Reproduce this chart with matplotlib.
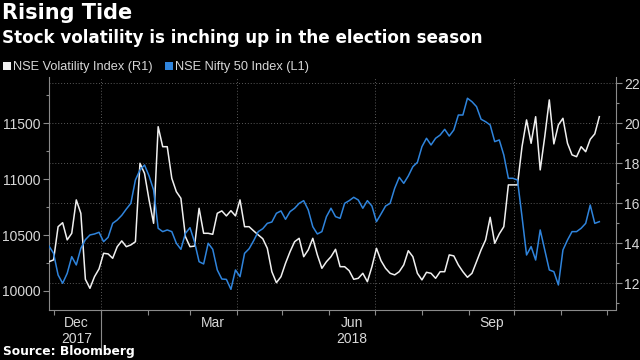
import numpy as np
import pandas as pd
import matplotlib
matplotlib.use("Agg")
import matplotlib.pyplot as plt
import matplotlib.dates as mdates
import matplotlib.transforms as mtrans
from matplotlib.lines import Line2D
from matplotlib.ticker import FixedLocator, NullFormatter, FixedFormatter, MultipleLocator

# ---------------- data ----------------
dates = pd.date_range("2017-11-28", periods=122, freq="3D")

vix_r1 = [
    13.08, 13.17, 14.83, 15.03, 14.17, 14.5, 16.17, 15.5, 12.2, 11.75,
    12.33, 12.72, 13.5, 13.47, 13.25, 13.83, 14.12, 13.83, 13.92, 14.08,
    18.0, 17.5, 16.17, 15.0, 19.83, 18.83, 18.83, 17.25, 16.58, 16.25,
    14.33, 13.83, 13.86, 15.75, 14.5, 14.5, 14.45, 15.5, 15.62, 15.37,
    15.63, 15.37, 16.17, 14.83, 14.83, 14.62, 14.42, 14.23, 13.75, 12.58,
    12.03, 12.33, 13.0, 13.58, 14.08, 14.25, 13.33, 13.67, 14.25, 13.42,
    12.75, 13.08, 13.33, 13.7, 12.83, 12.83, 12.63, 12.2, 12.25, 12.5,
    12.08, 12.83, 13.75, 13.13, 12.75, 12.5, 12.42, 12.58, 12.92, 13.63,
    13.33, 12.5, 12.17, 12.55, 12.5, 12.25, 12.58, 12.58, 13.42, 13.37,
    12.92, 12.58, 12.3, 12.5, 13.08, 13.67, 14.17, 15.3, 14.0, 14.47,
    14.83, 16.92, 16.92, 16.92, 18.83, 20.17, 19.0, 20.33, 17.67, 19.33,
    21.17, 18.97, 19.92, 20.25, 19.0, 18.42, 18.33, 18.83, 18.58, 19.2,
    19.47, 20.33,
]

nifty_l1 = [
    10402, 10337, 10143, 10069, 10158, 10307, 10233, 10382, 10459, 10501,
    10510, 10525, 10441, 10480, 10605, 10635, 10677, 10733, 10784, 10993,
    11082, 11127, 11029, 10903, 10561, 10531, 10546, 10531, 10427, 10373,
    10516, 10566, 10438, 10262, 10242, 10427, 10373, 10188, 10107, 10104,
    10015, 10188, 10128, 10337, 10378, 10450, 10531, 10557, 10605, 10617,
    10695, 10716, 10641, 10710, 10740, 10784, 10808, 10725, 10575, 10510,
    10531, 10665, 10740, 10665, 10650, 10784, 10808, 10838, 10814, 10740,
    10808, 10760, 10620, 10689, 10760, 10784, 10918, 11017, 10963, 11029,
    11112, 11151, 11291, 11366, 11306, 11366, 11395, 11446, 11386, 11440,
    11574, 11574, 11724, 11693, 11649, 11536, 11514, 11485, 11336, 11351,
    11216, 11008, 11008, 10993, 10665, 10322, 10397, 10277, 10546, 10367,
    10188, 10173, 10054, 10367, 10456, 10531, 10531, 10561, 10605, 10769,
    10605, 10620,
]

series_names = ["NSE Volatility Index (R1)", "NSE Nifty 50 Index (L1)"]
right_ticks = [12, 14, 16, 18, 20, 22]
left_ticks = [10000, 10500, 11000, 11500]
x_label_dates = ["2017-12-16", "2018-03-16", "2018-06-16", "2018-09-16"]
x_labels = ["Dec\n2017", "Mar", "Jun\n2018", "Sep"]
quarter_dates = ["2018-01-01", "2018-04-01", "2018-07-01", "2018-10-01"]
year_break = "2018-01-01"

title = "Rising Tide"
subtitle = "Stock volatility is inching up in the election season"
source = "Source: Bloomberg"

# ---------------- style ----------------
BG = "black"
WHITE = "#f0f0f0"
BLUE = "#2f84dc"
AXC = "#8a8a8a"
TXT = "#d8d8d8"
GRID = "#5a5a5a"
TICKFONT = ["Liberation Sans", "DejaVu Sans"]

plt.rcParams["font.family"] = ["DejaVu Sans"]

fig = plt.figure(figsize=(6.4, 3.6), dpi=100, facecolor=BG)
L, R, T, B = 49, 615.5, 77, 310
ax = fig.add_axes([L / 640, 1 - B / 360, (R - L) / 640, (B - T) / 360])
ax.set_facecolor(BG)
ax2 = ax.twinx()
ax2.patch.set_visible(False)

# right axis (VIX) on ax, left axis (Nifty) on ax2
ax.plot(dates, vix_r1, color=WHITE, lw=1.1, zorder=3)
ax2.plot(dates, nifty_l1, color=BLUE, lw=1.1, zorder=3)

ax.set_xlim(pd.Timestamp("2017-11-28"), pd.Timestamp("2018-12-06 16:00"))
ax.set_ylim(10.665, 22.315)
ax2.set_ylim(9830, 11914)

ax.yaxis.tick_right()
ax2.yaxis.tick_left()

ax.yaxis.set_major_locator(FixedLocator(right_ticks))
ax.yaxis.set_major_formatter(FixedFormatter([str(v) for v in right_ticks]))
ax.yaxis.set_minor_locator(MultipleLocator(2, offset=1))
ax2.yaxis.set_major_locator(FixedLocator(left_ticks))
ax2.yaxis.set_major_formatter(FixedFormatter([str(v) for v in left_ticks]))
ax2.yaxis.set_minor_locator(MultipleLocator(250))

# x ticks: month starts (marks only), labels mid-month
ax.xaxis.set_major_locator(mdates.MonthLocator())
ax.xaxis.set_major_formatter(NullFormatter())
ax.xaxis.set_minor_locator(FixedLocator(mdates.date2num(pd.to_datetime(x_label_dates))))
ax.xaxis.set_minor_formatter(FixedFormatter(x_labels))

for a in (ax, ax2):
    a.tick_params(axis="y", which="major", direction="out", length=4, width=0.8,
                  color=AXC, labelcolor=TXT, labelsize=10, pad=2)
    a.tick_params(axis="y", which="minor", direction="out", length=2.5, width=0.8, color=AXC)
ax.tick_params(axis="x", which="major", direction="out", length=3.5, width=0.8, color=AXC)
ax.tick_params(axis="x", which="minor", length=0, labelcolor=TXT, labelsize=10, pad=4)

for a in (ax, ax2):
    for lab in a.get_yticklabels() + a.get_xticklabels(minor=True):
        lab.set_family(TICKFONT)

for s in ax.spines.values():
    s.set_color(AXC)
    s.set_linewidth(0.8)
ax.spines["top"].set_visible(False)
for s in ax2.spines.values():
    s.set_visible(False)

# grid
ax.grid(axis="y", which="major", color=GRID, ls=(0, (1, 2)), lw=0.7, zorder=0)
for d in quarter_dates:
    ax.axvline(pd.Timestamp(d), color=GRID, ls=(0, (1, 2)), lw=0.7, zorder=0)

# year separator below the axis
trans = mtrans.blended_transform_factory(ax.transData, ax.transAxes)
yb = pd.Timestamp(year_break)
ax.plot([yb, yb], [0, -(354 - B) / (B - T)], transform=trans, color=AXC, lw=0.8, clip_on=False)

# titles
fig.text(2 / 640, 1 - 3 / 360, title, color="white", fontsize=15, fontweight="bold", va="top", ha="left")
fig.text(2 / 640, 1 - 29 / 360, subtitle, color="white", fontsize=12.1, fontweight="bold", va="top", ha="left")
fig.text(3 / 640, 1 - 352 / 360, source, color="white", fontsize=8.8, fontweight="bold", va="center", ha="left")

# legend
handles = [Line2D([], [], ls="none", marker="s", markersize=5.5, color=c, markeredgewidth=0)
           for c in (WHITE, BLUE)]
leg = fig.legend(handles, series_names, loc="center left", bbox_to_anchor=(3 / 640, 1 - 67 / 360),
                 ncol=2, frameon=False, prop={"family": TICKFONT, "size": 9.2},
                 handlelength=0.6, handletextpad=0.15,
                 columnspacing=1.0, borderpad=0, borderaxespad=0)
for t in leg.get_texts():
    t.set_color(TXT)

fig.savefig("out.png", dpi=100, facecolor=BG)
